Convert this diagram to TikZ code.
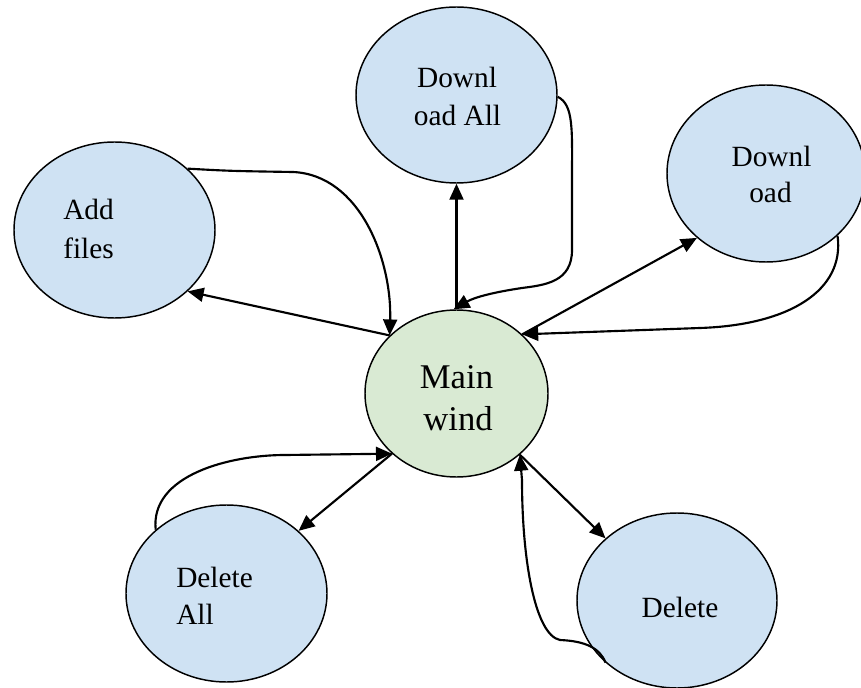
\documentclass[tikz,border=0pt]{standalone}
\usepackage{fontspec}
\setmainfont{Liberation Serif}
\usetikzlibrary{arrows.meta,shapes.geometric}
\definecolor{nodeblue}{HTML}{CFE2F3}
\definecolor{nodegreen}{HTML}{D9EAD3}
\tikzset{
  bubble/.style={ellipse,draw=black,line width=1.1pt,fill=nodeblue,inner sep=0pt},
  mainbubble/.style={bubble,fill=nodegreen},
  lbl/.style={inner sep=0pt,font=\fontsize{22pt}{26pt}\selectfont},
  mainlbl/.style={inner sep=0pt,font=\fontsize{26pt}{30pt}\selectfont},
  arr/.style={line width=1.6pt,-{Triangle[length=12pt,width=10.5pt]}},
}
\begin{document}
\begin{tikzpicture}[x=0.75pt,y=-0.75pt]
\useasboundingbox (0,0) rectangle (861,688);
% ellipses
\node[bubble,minimum width=150.75pt,minimum height=132pt] (dla) at (456.5,95) {};
\node[bubble,minimum width=148.5pt,minimum height=132.75pt] (dl) at (766,173.5) {};
\node[bubble,minimum width=150.75pt,minimum height=132pt] (add) at (114.5,230) {};
\node[mainbubble,minimum width=137.25pt,minimum height=125.25pt] (main) at (456.5,393.5) {};
\node[bubble,minimum width=150.75pt,minimum height=132.75pt] (dela) at (226.5,593.5) {};
\node[bubble,minimum width=150pt,minimum height=131.25pt] (del) at (677,600.5) {};
% labels
\node[lbl,anchor=base] (dlaA) at (457,88) {Downl};
\node[lbl,anchor=base] (dlaB) at (457.5,126) {oad All};
\node[lbl,anchor=base] (dlA) at (771.5,167) {Downl};
\node[lbl,anchor=base] (dlB) at (770.5,203) {oad};
\node[lbl,anchor=base west] (addA) at (63,220) {Add};
\node[lbl,anchor=base west] (addB) at (63,259) {files};
\node[mainlbl,anchor=base] (mainA) at (456.5,388) {Main};
\node[mainlbl,anchor=base] (mainB) at (458,430) {wind};
\node[lbl,anchor=base west] (delaA) at (176,587) {Delete};
\node[lbl,anchor=base west] (delaB) at (176,624) {All};
\node[lbl,anchor=base] (delA) at (680,617) {Delete};
% straight connectors
\draw[arr] (main.90) -- (dla.270);
\draw[arr] (main.139) -- (add.-40);
\draw[arr] (main.42) -- (dl.223);
\draw[arr] (main.-137) -- (dela.41.6);
\draw[arr] (main.-44) -- (del.139);
% curved connectors
\draw[arr] (dla.-1) .. controls (574,105) and (572,130) .. (572,180) -- (572,250)
  .. controls (572,282) and (545,285) .. (522,288) .. controls (495,292) and (475,297) .. (main.92);
\draw[arr] (add.40) .. controls (230,171) .. (293,172) .. controls (360,175) and (392,260) .. (main.139);
\draw[arr] (dl.-41) .. controls (845,290) and (790,325) .. (700,328) -- (main.42);
\draw[arr] (dela.138) .. controls (150,475) and (230,455) .. (285,455) -- (main.-137);
\draw[arr] (del.221) .. controls (600,648) and (585,641) .. (560,640) .. controls (535,635) and (522,560) .. (522,480) -- (main.-44);
\end{tikzpicture}
\end{document}
